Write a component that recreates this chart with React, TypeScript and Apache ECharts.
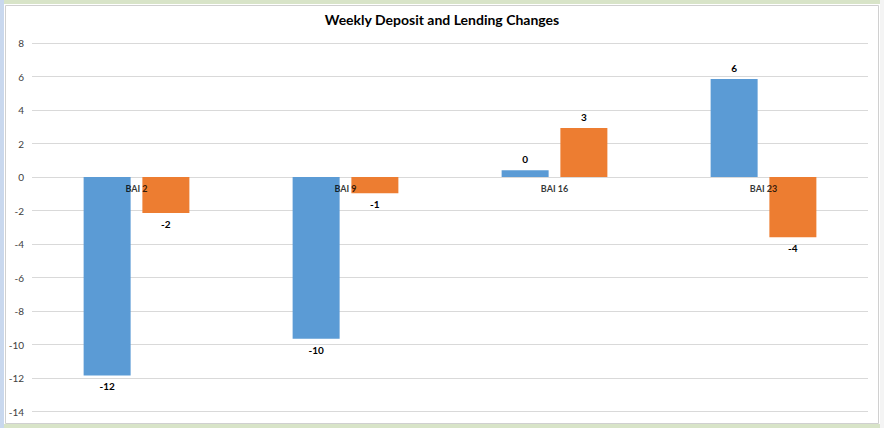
import React, { useEffect, useRef } from "react";
import * as echarts from "echarts";

const categories = ["BAI 2", "BAI 9", "BAI 16", "BAI 23"];
const depositValues = [-11.85, -9.65, 0.4, 5.85];
const lendingValues = [-2.15, -0.97, 2.93, -3.6];
const seriesNames = ["Deposit", "Lending"];
const titleText = "Weekly Deposit and Lending Changes";

const FONT = "Lato, 'Liberation Sans', sans-serif";

function toItems(values: number[]) {
  return values.map((v) => ({
    value: v,
    label: { position: v < 0 ? "bottom" : "top" },
  }));
}

export default function App() {
  const ref = useRef<HTMLDivElement>(null);
  useEffect(() => {
    if (!ref.current) return;
    const chart = echarts.init(ref.current, undefined, { renderer: "svg" });
    const labelStyle = {
      show: true,
      distance: 6,
      color: "#000000",
      fontSize: 10,
      fontWeight: "bold" as const,
      fontFamily: FONT,
      formatter: (p: any) => String(Math.round(p.value) === 0 ? 0 : Math.round(p.value)),
    };
    chart.setOption({
      animation: false,
      backgroundColor: "#ffffff",
      textStyle: { fontFamily: FONT },
      title: {
        text: titleText,
        left: "center",
        top: 7,
        textStyle: { fontSize: 14, fontWeight: "bold", color: "#000000", fontFamily: FONT },
      },
      graphic: [
        { type: "rect", shape: { x: 0, y: 0, width: 884, height: 4 }, style: { fill: "#d8e4c8" }, silent: true },
        { type: "rect", shape: { x: 0, y: 424, width: 884, height: 4 }, style: { fill: "#d8e4c8" }, silent: true },
        { type: "rect", shape: { x: 0, y: 0, width: 4, height: 428 }, style: { fill: "#c9d8ee" }, silent: true },
        { type: "rect", shape: { x: 880, y: 0, width: 4, height: 428 }, style: { fill: "#f4f4f4" }, silent: true },
        {
          type: "rect",
          shape: { x: 5.5, y: 5.5, width: 873, height: 418 },
          style: { fill: "none", stroke: "#d0d0d0", lineWidth: 1 },
          silent: true,
        },
      ],
      grid: { left: 32, right: 16, top: 43, bottom: 16.5, containLabel: false },
      xAxis: {
        type: "category",
        data: categories,
        axisLine: { show: false },
        axisTick: { show: false },
        axisLabel: { show: false },
      },
      yAxis: {
        type: "value",
        min: -14,
        max: 8,
        interval: 2,
        axisLine: { show: false },
        axisTick: { show: false },
        splitLine: { lineStyle: { color: "#d9d9d9", width: 1 } },
        axisLabel: { color: "#404040", fontSize: 10, fontFamily: FONT, margin: 8 },
      },
      series: [
        {
          name: seriesNames[0],
          type: "bar",
          data: toItems(depositValues),
          barWidth: 47,
          barGap: "25%",
          itemStyle: { color: "#5b9bd5" },
          label: labelStyle,
        },
        {
          name: seriesNames[1],
          type: "bar",
          data: toItems(lendingValues),
          barWidth: 47,
          barGap: "25%",
          itemStyle: { color: "#ed7d31" },
          label: labelStyle,
        },
        {
          name: "categoryLabels",
          type: "scatter",
          data: categories.map((c) => [c, 0]),
          symbolSize: 0,
          silent: true,
          z: 10,
          label: {
            show: true,
            position: "bottom",
            distance: 7,
            color: "#000000",
            fontSize: 9,
            fontWeight: "bold",
            fontFamily: FONT,
            formatter: (p: any) => p.name || p.value[0],
          },
        },
      ],
    });
    return () => chart.dispose();
  }, []);
  return (
    <div
      ref={ref}
      style={{ position: "fixed", left: 0, top: 0, width: 884, height: 428 }}
    />
  );
}
